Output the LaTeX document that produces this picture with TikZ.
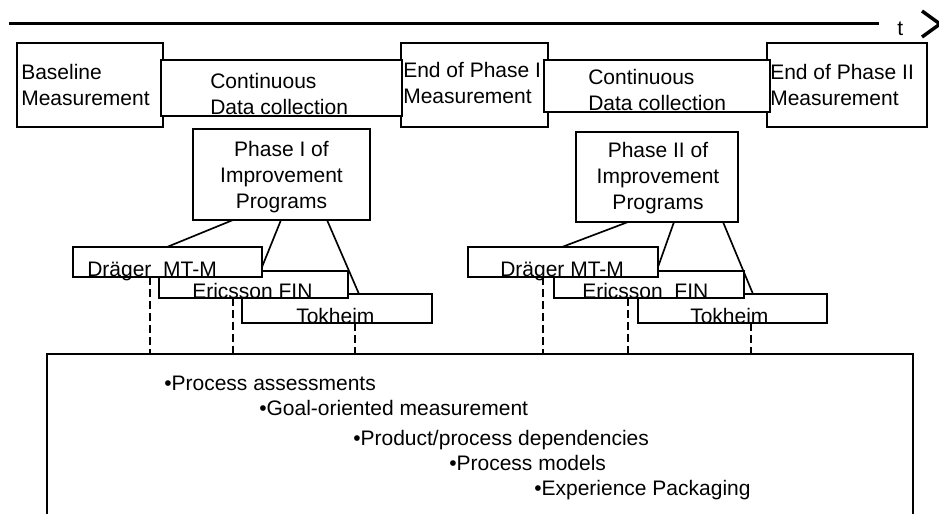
\documentclass[tikz,border=0pt]{standalone}
\usepackage{fontspec}
\setmainfont{Liberation Sans}
\usetikzlibrary{calc}
\begin{document}
\begin{tikzpicture}[x=0.75pt,y=-0.75pt,
  every node/.style={font=\fontsize{15.75pt}{19.5pt}\selectfont},
  box/.style={draw, fill=white, line width=1.4pt, inner sep=0pt, outer sep=0pt, anchor=north west},
  lbl/.style={inner sep=0pt, anchor=base west, align=left},
  clbl/.style={inner sep=0pt, anchor=base, align=center},
  link/.style={line width=1.25pt},
  drop/.style={line width=1.5pt, dash pattern=on 6pt off 3pt},
  timeline/.style={line width=2.6pt}
]
\useasboundingbox (0,0) rectangle (939,514);

% time axis
\coordinate (tl0) at (9,23.5);
\coordinate (tl1) at (879,23.5);
\draw[timeline] (tl0) -- (tl1);
\node[lbl] (tlab) at (897,36) {t};
\coordinate (ch0) at (922,11);
\coordinate (ch1) at (940,24);
\coordinate (ch2) at (922,37);
\draw[timeline, line join=miter] (ch0) -- (ch1) -- (ch2);

% bottom box
\node[box, minimum width=649.5pt, minimum height=132pt] (big) at (47,354) {};

% top row
\node[box, minimum width=109.5pt, minimum height=63pt] (base) at (17,43) {};
\node[box, minimum width=110.25pt, minimum height=63pt] (end1) at (401,43) {};
\node[box, minimum width=120pt, minimum height=63pt] (end2) at (767,43) {};
\node[box, minimum width=180.75pt, minimum height=42pt] (cont1) at (161,60) {};
\node[box, minimum width=169.5pt, minimum height=39pt] (cont2) at (544,60) {};

\node[lbl] (tbase) at (21,105) {Baseline\\Measurement};
\node[lbl] (tcont1) at (210,114) {Continuous\\Data collection};
\node[lbl] (tend1) at (403,103) {End of Phase I\\Measurement};
\node[lbl] (tcont2) at (588,110) {Continuous\\Data collection};
\node[lbl] (tend2) at (770,105) {End of Phase II\\Measurement};

% phase boxes
\node[box, minimum width=132.75pt, minimum height=68.25pt] (p1) at (193,129) {};
\node[box, minimum width=121.5pt, minimum height=67.5pt] (p2) at (576,132) {};
\node[clbl] (tp1) at (281.5,208) {Phase I of\\Improvement\\Programs};
\node[clbl] (tp2) at (658,209) {Phase II of\\Improvement\\Programs};

% phase I companies
\node[box, minimum width=142.5pt, minimum height=21.75pt] (t1) at (242,294) {};
\node[box, minimum width=141.75pt, minimum height=20.25pt] (e1) at (159,271) {};
\node[box, minimum width=141.75pt, minimum height=22.5pt] (d1) at (73,247) {};
\node[lbl] (td1) at (87,276) {Dräger\ \ MT-M};
\node[lbl] (te1) at (192,298) {Ericsson FIN};
\node[lbl] (tt1) at (296,323) {Tokheim};

% phase II companies
\node[box, minimum width=141.75pt, minimum height=21.75pt] (t2) at (638,294) {};
\node[box, minimum width=142.5pt, minimum height=20.25pt] (e2) at (554,271) {};
\node[box, minimum width=142.5pt, minimum height=22.5pt] (d2) at (468,247) {};
\node[lbl] (td2) at (500,276) {Dräger MT-M};
\node[lbl] (te2) at (582,298) {Ericsson\ \ FIN};
\node[lbl] (tt2) at (690,323) {Tokheim};

% links
\draw[link] ($(p1.south west)+(40,0)$) -- ($(d1.north west)+(94,0)$);
\draw[link] ($(p1.south west)+(88,0)$) -- ($(d1.east)+(0,5)$);
\draw[link] ($(p1.south west)+(134,0)$) -- ($(t1.north west)+(117,0)$);
\draw[link] ($(p2.south west)+(52,0)$) -- ($(d2.north west)+(94,0)$);
\draw[link] ($(p2.south west)+(98,0)$) -- ($(d2.east)+(0,5)$);
\draw[link] ($(p2.south west)+(147,0)$) -- ($(t2.north west)+(115,0)$);

% dashed drops
\coordinate (q1) at ($(d1.south west)+(77,0)$);
\coordinate (q2) at ($(e1.south west)+(74,0)$);
\coordinate (q3) at ($(t1.south west)+(113,0)$);
\coordinate (q4) at ($(d2.south west)+(75,0)$);
\coordinate (q5) at ($(e2.south west)+(74,0)$);
\coordinate (q6) at ($(t2.south west)+(113,0)$);
\foreach \q in {q1,q2,q3,q4,q5,q6}
  \draw[drop] (\q) -- (\q |- big.north);

% bullets
\node[lbl] (b1) at (164,390) {•Process assessments};
\node[lbl] (b2) at (259,415) {•Goal-oriented measurement};
\node[lbl] (b3) at (353,445) {•Product/process dependencies};
\node[lbl] (b4) at (449,470) {•Process models};
\node[lbl] (b5) at (534,495) {•Experience Packaging};
\end{tikzpicture}
\end{document}
